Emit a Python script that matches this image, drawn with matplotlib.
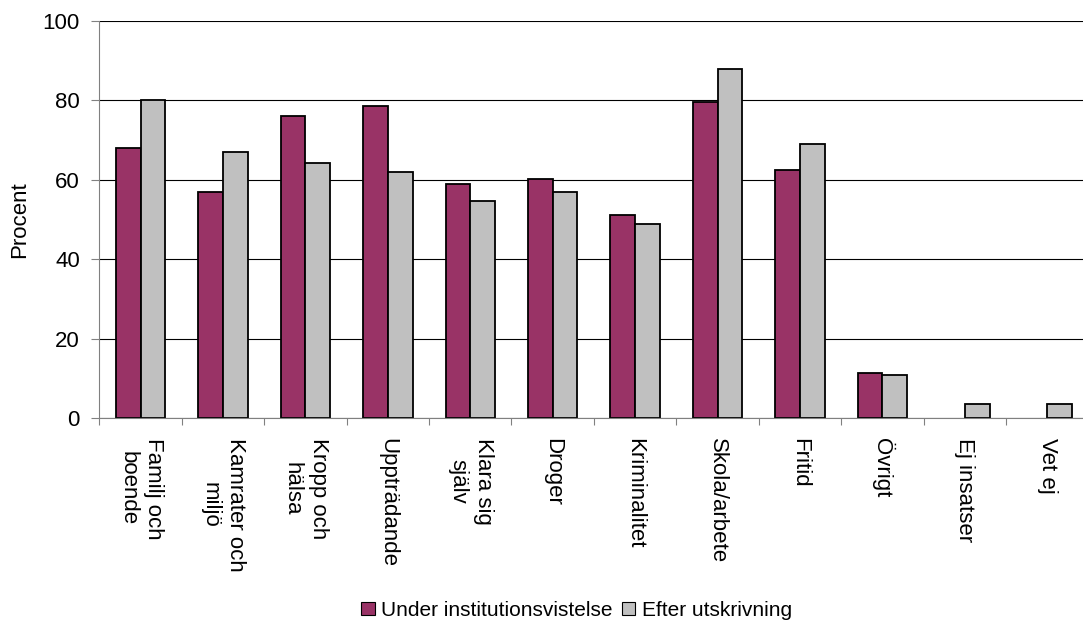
import numpy as np
import matplotlib as mpl
mpl.use("Agg")
import matplotlib.pyplot as plt
from matplotlib.patches import Patch

CATEGORIES = [
    "Familj och\nboende", "Kamrater och\nmiljö", "Kropp och\nhälsa",
    "Uppträdande", "Klara sig\nsjälv", "Droger", "Kriminalitet",
    "Skola/arbete", "Fritid", "Övrigt", "Ej insatser", "Vet ej",
]
UNDER = [68.1, 56.9, 76.0, 78.6, 59.0, 60.3, 51.1, 79.6, 62.5, 11.4, np.nan, np.nan]
EFTER = [80.0, 67.0, 64.3, 62.1, 54.6, 56.9, 49.0, 87.9, 69.1, 10.9, 3.5, 3.5]
SERIES_LABELS = ["Under institutionsvistelse", "Efter utskrivning"]
Y_TICKS = [0, 20, 40, 60, 80, 100]

MAROON = "#993366"
GRAY = "#C0C0C0"
AXIS_GRAY = "#808080"

plt.rcParams["font.family"] = ["Liberation Sans", "DejaVu Sans"]
FS = 16

W, H = 1083, 623
fig = plt.figure(figsize=(W / 100, H / 100), dpi=100, facecolor="white")
left_px, right_px, top_px, base_px = 99.3, 1088.5, 21.0, 418.3
ax = fig.add_axes([left_px / W, (H - base_px) / H,
                   (right_px - left_px) / W, (base_px - top_px) / H])

x = np.arange(len(CATEGORIES))
bw = 0.30
ax.bar(x - bw / 2, UNDER, bw, color=MAROON, edgecolor="black",
       linewidth=1.3, zorder=3)
ax.bar(x + bw / 2, EFTER, bw, color=GRAY, edgecolor="black",
       linewidth=1.3, zorder=3)

ax.set_xlim(-0.5, len(CATEGORIES) - 0.5)
ax.set_ylim(0, 100)
ax.set_yticks(Y_TICKS)
ax.set_yticklabels([str(v) for v in Y_TICKS], fontsize=FS)
ax.grid(axis="y", color="black", linewidth=0.8, zorder=0)
ax.set_axisbelow(True)

ax.set_xticks(np.arange(len(CATEGORIES) + 1) - 0.5)
ax.set_xticklabels([])
ax.set_xticks(x, minor=True)
ax.set_xticklabels(CATEGORIES, minor=True, rotation=270, fontsize=FS,
                   ha="center", va="top", linespacing=1.3)
ax.tick_params(axis="x", which="minor", length=0, pad=14)
ax.tick_params(axis="x", which="major", length=5, width=0.8,
               color=AXIS_GRAY, direction="out")
ax.tick_params(axis="y", length=5.5, width=0.8, color=AXIS_GRAY, pad=8.5)

for side in ("top", "right"):
    ax.spines[side].set_visible(False)
for side in ("left", "bottom"):
    ax.spines[side].set_color(AXIS_GRAY)
    ax.spines[side].set_linewidth(0.8)
ax.spines["bottom"].set_zorder(4)

fig.text(20 / W, (H - 220) / H, "Procent", rotation=90, fontsize=FS,
         ha="center", va="center")

handles = [Patch(facecolor=MAROON, edgecolor="black", linewidth=0.8),
           Patch(facecolor=GRAY, edgecolor="black", linewidth=0.8)]
fig.legend(handles, SERIES_LABELS, loc="center", ncol=2, frameon=False,
           bbox_to_anchor=(576.5 / W, (H - 610) / H), fontsize=15,
           handlelength=0.65, handleheight=0.6, handletextpad=0.3,
           columnspacing=0.45, borderaxespad=0, borderpad=0)

fig.savefig("out.png", dpi=100, facecolor="white")
